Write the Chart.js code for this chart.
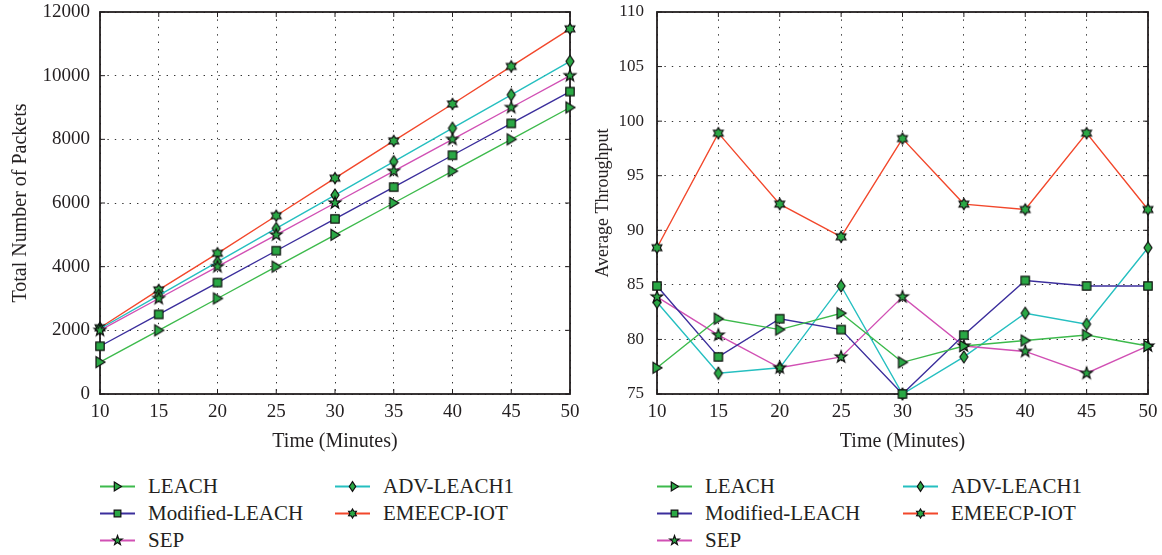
<!DOCTYPE html>
<html><head><meta charset="utf-8">
<script src="https://cdn.jsdelivr.net/npm/chart.js@4.4.0/dist/chart.umd.min.js"></script>
<style>
html,body{margin:0;padding:0;background:#fff;width:1162px;height:555px;overflow:hidden;font-family:"Liberation Serif",serif;}
.wrap{position:absolute;}
.item{position:absolute;height:27px;line-height:27px;white-space:nowrap;font-size:21px;color:#231f20;}
.item canvas{position:absolute;left:0;top:0;}
.item span{position:absolute;left:48px;top:0;}
</style></head><body>
<div class="wrap" style="left:0;top:0;width:590px;height:460px"><canvas id="c1"></canvas></div>
<div class="wrap" style="left:580px;top:0;width:582px;height:460px"><canvas id="c2"></canvas></div>
<div id="lg"></div>
<script>
// ---------- data ----------
const minutes = [10, 15, 20, 25, 30, 35, 40, 45, 50];
const seriesNames = ['LEACH', 'Modified-LEACH', 'SEP', 'ADV-LEACH1', 'EMEECP-IOT'];

const packetsLEACH    = [1000, 2000, 3000, 4000, 5000, 6000, 7000, 8000, 9000];
const packetsModLEACH = [1500, 2500, 3500, 4500, 5500, 6500, 7500, 8500, 9500];
const packetsSEP      = [2000, 3000, 4000, 5000, 6000, 7000, 8000, 9000, 10000];
const packetsADV      = [2050, 3100, 4150, 5200, 6250, 7300, 8350, 9400, 10450];
const packetsEMEECP   = [2080, 3270, 4420, 5600, 6780, 7950, 9110, 10290, 11470];

const thrLEACH    = [77.4, 81.9, 80.9, 82.4, 77.9, 79.4, 79.9, 80.4, 79.4];
const thrModLEACH = [84.9, 78.4, 81.9, 80.9, 75.0, 80.4, 85.4, 84.9, 84.9];
const thrSEP      = [83.9, 80.4, 77.4, 78.4, 83.9, 79.4, 78.9, 76.9, 79.4];
const thrADV      = [83.4, 76.9, 77.4, 84.9, 75.0, 78.4, 82.4, 81.4, 88.4];
const thrEMEECP   = [88.4, 98.9, 92.4, 89.4, 98.4, 92.4, 91.9, 98.9, 91.9];

const packetTicks = [0, 2000, 4000, 6000, 8000, 10000, 12000];
const throughputTicks = [75, 80, 85, 90, 95, 100, 105, 110];
const minuteTicks = [10, 15, 20, 25, 30, 35, 40, 45, 50];

// ---------- styles ----------
const lineColors = ['#3dba4c', '#3b2e9c', '#d150b4', '#25bfc0', '#f2472b'];
const markerFill = '#2aa845';
const markerShapes = ['triRight', 'square', 'pentagram', 'diamond', 'hexagram'];

function drawMarker(ctx, shape, cx, cy, s) {
  ctx.beginPath();
  if (shape === 'triRight') {
    ctx.moveTo(cx - 4 * s, cy - 5.5 * s); ctx.lineTo(cx + 5 * s, cy); ctx.lineTo(cx - 4 * s, cy + 5.5 * s); ctx.closePath();
  } else if (shape === 'square') {
    ctx.rect(cx - 4.2 * s, cy - 4.2 * s, 8.4 * s, 8.4 * s);
  } else if (shape === 'diamond') {
    ctx.moveTo(cx, cy - 6 * s); ctx.lineTo(cx + 4 * s, cy); ctx.lineTo(cx, cy + 6 * s); ctx.lineTo(cx - 4 * s, cy); ctx.closePath();
  } else if (shape === 'pentagram') {
    for (let k = 0; k < 10; k++) {
      const r = (k % 2 === 0 ? 6.2 : 2.5) * s;
      const a = -Math.PI / 2 + k * Math.PI / 5;
      const px = cx + r * Math.cos(a), py = cy + r * Math.sin(a);
      k === 0 ? ctx.moveTo(px, py) : ctx.lineTo(px, py);
    }
    ctx.closePath();
  } else if (shape === 'hexagram') {
    for (let k = 0; k < 12; k++) {
      const r = (k % 2 === 0 ? 5.6 : 3.3) * s;
      const a = -Math.PI / 2 + k * Math.PI / 6;
      const px = cx + r * Math.cos(a), py = cy + r * Math.sin(a);
      k === 0 ? ctx.moveTo(px, py) : ctx.lineTo(px, py);
    }
    ctx.closePath();
  }
  ctx.fillStyle = markerFill;
  ctx.fill();
  ctx.lineWidth = 1.2;
  ctx.strokeStyle = '#111';
  ctx.stroke();
}
function markerCanvas(shape, s) {
  const c = document.createElement('canvas');
  c.width = 18; c.height = 18;
  drawMarker(c.getContext('2d'), shape, 9, 9, s);
  return c;
}
const markers = markerShapes.map(sh => markerCanvas(sh, 1));

Chart.defaults.font.family = "'Liberation Serif', serif";
Chart.defaults.color = '#231f20';

const framePlugin = {
  id: 'frame',
  beforeDatasetsDraw(chart) {
    const { ctx, chartArea: { left, right, top, bottom }, scales: { x, y } } = chart;
    ctx.save();
    ctx.strokeStyle = '#231f20';
    ctx.lineWidth = 1;
    ctx.beginPath();
    x.ticks.forEach((t, i) => {
      const px = x.getPixelForTick(i);
      ctx.moveTo(px, bottom); ctx.lineTo(px, bottom - 5);
      ctx.moveTo(px, top); ctx.lineTo(px, top + 5);
    });
    y.ticks.forEach((t, i) => {
      const py = y.getPixelForTick(i);
      ctx.moveTo(left, py); ctx.lineTo(left + 5, py);
      ctx.moveTo(right, py); ctx.lineTo(right - 5, py);
    });
    ctx.stroke();
    ctx.lineWidth = 1.8;
    ctx.strokeRect(left, top, right - left, bottom - top);
    ctx.restore();
  }
};

function makeDatasets(seriesValues) {
  return seriesValues.map((vals, k) => ({
    label: seriesNames[k],
    data: minutes.map((m, i) => ({ x: m, y: vals[i] })),
    borderColor: lineColors[k],
    backgroundColor: markerFill,
    borderWidth: 1.4,
    pointStyle: markers[k],
    pointRadius: 5,
    pointHoverRadius: 5,
    tension: 0,
    clip: false
  }));
}

function makeChart(id, seriesValues, yTicks, cfg) {
  return new Chart(document.getElementById(id), {
    type: 'line',
    data: { datasets: makeDatasets(seriesValues) },
    options: {
      responsive: true,
      maintainAspectRatio: false,
      animation: false,
      events: [],
      layout: { padding: { left: 0, right: cfg.padRight, top: 12, bottom: 0 } },
      plugins: { legend: { display: false }, tooltip: { enabled: false } },
      scales: {
        x: {
          type: 'linear',
          min: minuteTicks[0], max: minuteTicks[minuteTicks.length - 1],
          afterBuildTicks: s => { s.ticks = minuteTicks.map(v => ({ value: v })); },
          afterFit: s => { s.height = 66; s.paddingLeft = 0; s.paddingRight = 0; },
          ticks: { font: { size: 19 }, padding: 7, maxRotation: 0, autoSkip: false, color: '#231f20', callback: v => String(v) },
          grid: { color: '#333', lineWidth: 1, drawTicks: false },
          border: { display: false, dash: [1.4, 6] },
          title: { display: true, text: 'Time (Minutes)', font: { size: 20 }, padding: { top: 0, bottom: 6 }, color: '#231f20' }
        },
        y: {
          type: 'linear',
          min: yTicks[0], max: yTicks[yTicks.length - 1],
          afterBuildTicks: s => { s.ticks = yTicks.map(v => ({ value: v })); },
          afterFit: s => { s.width = cfg.yWidth; s.paddingTop = 0; s.paddingBottom = 0; },
          ticks: { font: { size: cfg.yTickSize }, padding: cfg.yTickPad, autoSkip: false, color: '#231f20', callback: v => String(v) },
          grid: { color: '#333', lineWidth: 1, drawTicks: false },
          border: { display: false, dash: [1.4, 6] },
          title: { display: true, text: cfg.yTitle, font: { size: cfg.yTitleSize }, padding: { top: cfg.yTitlePad, bottom: 0 }, color: '#231f20' }
        }
      }
    },
    plugins: [framePlugin]
  });
}

makeChart('c1', [packetsLEACH, packetsModLEACH, packetsSEP, packetsADV, packetsEMEECP], packetTicks,
  { padRight: 20, yWidth: 100, yTickSize: 19, yTickPad: 10, yTitle: 'Total Number of Packets', yTitleSize: 20, yTitlePad: 9 });
makeChart('c2', [thrLEACH, thrModLEACH, thrSEP, thrADV, thrEMEECP], throughputTicks,
  { padRight: 14, yWidth: 77, yTickSize: 17, yTickPad: 13, yTitle: 'Average Throughput', yTitleSize: 18, yTitlePad: 12 });

// ---------- legends (HTML, two columns, column-major) ----------
const legendSlots = [[0, 0], [0, 1], [0, 2], [1, 0], [1, 1]]; // [col,row] for each series
const rowCenters = [486, 513, 540];
function buildLegend(colX) {
  const lg = document.getElementById('lg');
  seriesNames.forEach((name, k) => {
    const [col, row] = legendSlots[k];
    const div = document.createElement('div');
    div.className = 'item';
    div.style.left = colX[col] + 'px';
    div.style.top = (rowCenters[row] - 13.5) + 'px';
    const c = document.createElement('canvas');
    c.width = 36; c.height = 27;
    const g = c.getContext('2d');
    g.strokeStyle = lineColors[k]; g.lineWidth = 2;
    g.beginPath(); g.moveTo(0, 13.5); g.lineTo(35, 13.5); g.stroke();
    drawMarker(g, markerShapes[k], 17.5, 13.5, 0.8);
    const sp = document.createElement('span');
    sp.textContent = name;
    div.appendChild(c); div.appendChild(sp);
    lg.appendChild(div);
  });
}
buildLegend([100, 335]);
buildLegend([657, 903]);
</script>
</body></html>
